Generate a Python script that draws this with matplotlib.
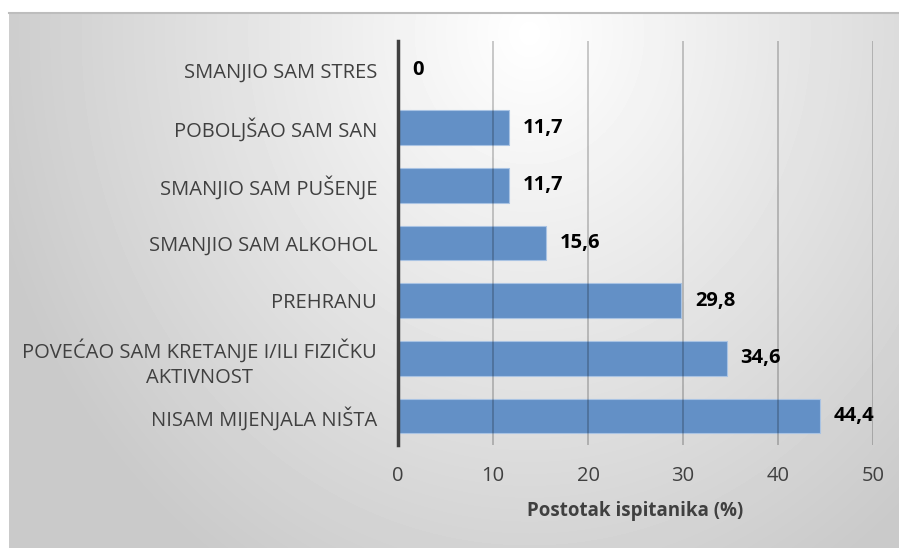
import matplotlib.pyplot as plt
import numpy as np
from matplotlib.lines import Line2D

categories = [
    "NISAM MIJENJALA NIŠTA",
    "POVEĆAO SAM KRETANJE I/ILI FIZIČKU\nAKTIVNOST",
    "PREHRANU",
    "SMANJIO SAM ALKOHOL",
    "SMANJIO SAM PUŠENJE",
    "POBOLJŠAO SAM SAN",
    "SMANJIO SAM STRES",
]
values = [44.4, 34.6, 29.8, 15.6, 11.7, 11.7, 0]
value_labels = ["44,4", "34,6", "29,8", "15,6", "11,7", "11,7", "0"]
x_ticks = [0, 10, 20, 30, 40, 50]

plt.rcParams["font.family"] = ["Open Sans", "DejaVu Sans"]

W, H = 899, 548
fig = plt.figure(figsize=(W / 100, H / 100), dpi=100)
fig.patch.set_facecolor("white")

# gradient panel behind the chart
bg = fig.add_axes([9 / W, 0, 1 - 9 / W, (H - 13) / H], zorder=-10)
yy, xx = np.mgrid[0:535, 0:890]
dist = np.sqrt(((xx - 520) / 560) ** 2 + ((yy - 20) / 640) ** 2)
shade = 1.0 - 0.21 * np.clip(dist, 0, 1.0)
bg.imshow(shade, cmap="gray", vmin=0, vmax=1, aspect="auto",
          interpolation="bilinear", extent=[0, 1, 0, 1])
bg.set_axis_off()
fig.add_artist(Line2D([9 / W, 1], [1 - 12.5 / H, 1 - 12.5 / H],
                      color="#bdbdbd", lw=1.5, transform=fig.transFigure))

ax = fig.add_axes([398 / W, 1 - 445 / H, 475 / W, 404 / H])
ax.set_facecolor("none")

pos = np.arange(len(categories))
ax.barh(pos, values, height=0.6, color="#6390c6",
        edgecolor="#a9c3e3", linewidth=0.8, zorder=2)

for p, v, lab in zip(pos, values, value_labels):
    ax.annotate(lab, (v, p), xytext=(10, 0), textcoords="offset points",
                va="center", ha="left", fontsize=14.5, fontweight="bold",
                color="black", zorder=4)

ax.set_xlim(0, 50)
ax.set_ylim(-0.5, len(categories) - 0.5)
ax.set_xticks(x_ticks)
ax.set_yticks(pos)
ax.set_yticklabels(categories)
for t in ax.get_yticklabels():
    t.set_multialignment("center")
    t.set_linespacing(1.35)
ax.tick_params(axis="both", length=0, labelsize=14.5, colors="#404040")
ax.tick_params(axis="y", pad=15)
ax.tick_params(axis="x", pad=15)

ax.grid(axis="x", color="black", alpha=0.22, linewidth=1.3, zorder=3)
ax.set_axisbelow(False)
for s in ["top", "right", "bottom"]:
    ax.spines[s].set_visible(False)
ax.spines["left"].set_color("#404040")
ax.spines["left"].set_linewidth(2.5)
ax.spines["left"].set_zorder(5)

ax.set_xlabel("Postotak ispitanika (%)", fontsize=13.5, fontweight="bold",
              color="#404040", labelpad=11)

fig.savefig("out.png", dpi=100)
